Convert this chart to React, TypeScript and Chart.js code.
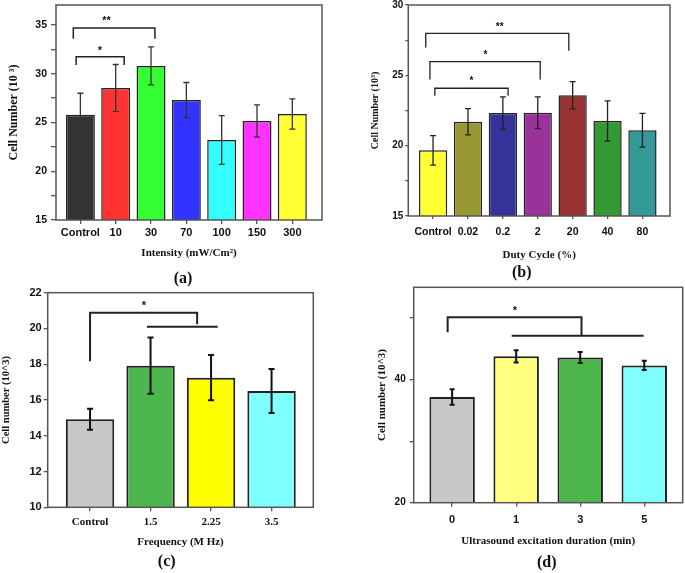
import React, { useEffect, useRef } from "react";
import { Chart, registerables } from "chart.js";

Chart.register(...registerables);

const W = 685;
const H = 573;
const SANS = "'Liberation Sans', Arial, sans-serif";
const SERIF = "'Liberation Serif', 'Times New Roman', serif";

// ---------- Panel (a) ----------
const categoriesA = ["Control", "10", "30", "70", "100", "150", "300"];
const valuesA = [25.8, 28.55, 30.8, 27.3, 23.2, 25.15, 25.88];
const errorsA = [2.2, 2.4, 1.95, 1.8, 2.5, 1.65, 1.55];
const colorsA = ["#333333", "#ff3333", "#33ff33", "#3333ff", "#33ffff", "#ff33ff", "#ffff33"];
const bracketsA = [
  [[-0.2, 33.6], [-0.2, 34.68], [2.11, 34.68], [2.11, 33.6]],
  [[-0.12, 30.9], [-0.12, 31.73], [1.24, 31.73], [1.24, 30.9]],
];
const starsA = [
  { x: 0.74, y: 35.45, text: "**" },
  { x: 0.55, y: 32.35, text: "*" },
];

// ---------- Panel (b) ----------
const categoriesB = ["Control", "0.02", "0.2", "2", "20", "40", "80"];
const valuesB = [19.67, 21.7, 22.32, 22.34, 23.58, 21.75, 21.09];
const errorsB = [1.05, 0.93, 1.15, 1.13, 0.97, 1.43, 1.2];
const colorsB = ["#ffff33", "#999933", "#333399", "#993399", "#993333", "#339933", "#339999"];
const bracketsB = [
  [[-0.21, 26.98], [-0.21, 27.98], [3.89, 27.98], [3.89, 26.75]],
  [[-0.09, 24.7], [-0.09, 25.97], [3.07, 25.97], [3.07, 24.7]],
  [[0.05, 23.55], [0.05, 24.08], [2.15, 24.08], [2.15, 23.55]],
];
const starsB = [
  { x: 1.91, y: 28.4, text: "**" },
  { x: 1.5, y: 26.45, text: "*" },
  { x: 1.1, y: 24.57, text: "*" },
];

// ---------- Panel (c) ----------
const categoriesC = ["Control", "1.5", "2.25", "3.5"];
const valuesC = [14.92, 17.92, 17.25, 16.5];
const errorsC = [0.59, 1.57, 1.27, 1.23];
const colorsC = ["#c8c8c8", "#4cb54c", "#ffff00", "#80ffff"];
const bracketsC = [
  [[0, 18.17], [0, 20.88], [1.77, 20.88], [1.77, 20.24]],
  [[0.94, 20.1], [2.11, 20.1]],
];
const starsC = [{ x: 0.89, y: 21.25, text: "*" }];

// ---------- Panel (d) ----------
const categoriesD = ["0", "1", "3", "5"];
const valuesD = [37.18, 43.78, 43.6, 42.3];
const errorsD = [1.25, 0.98, 0.9, 0.75];
const colorsD = ["#c8c8c8", "#ffff80", "#4cb54c", "#80ffff"];
const bracketsD = [
  [[-0.07, 47.7], [-0.07, 50.15], [2.02, 50.15], [2.02, 47.2]],
  [[0.93, 47.13], [2.99, 47.13]],
];
const starsD = [{ x: 0.98, y: 51.2, text: "*" }];

type Panel = {
  cats: string[];
  vals: number[];
  errs: number[];
  colors: string[];
  brackets: number[][][];
  stars: { x: number; y: number; text: string }[];
  yMin: number;
  yMax: number;
  yStep: number;
  yLabelEvery: number;
  xMin: number;
  xMax: number;
  barPct: number;
  area: { l: number; t: number; r: number; b: number };
  xTitle: string;
  yTitle: string;
  xTitleSize: number;
  yTitleSize: number;
  xTitleY: number;
  yTitleX: number;
  xTickFont: { family: string; size: number };
  yTickSize: number;
  xTickLen: number;
  yTickLen: number;
  xTickPad: number;
  yTickPad: number;
  barBorder: number;
  errColor: string;
  errWidth: number;
  capW: number;
  brWidth: number;
  starSize: number;
  label: string;
  labelX: number;
  labelY: number;
};

const panels: Panel[] = [
  {
    cats: categoriesA, vals: valuesA, errs: errorsA, colors: colorsA, brackets: bracketsA, stars: starsA,
    yMin: 15, yMax: 37.05, yStep: 2.5, yLabelEvery: 5,
    xMin: -0.69, xMax: 6.84, barPct: 0.82,
    area: { l: 56, t: 5, r: 322, b: 220 },
    xTitle: "Intensity (mW/Cm\u00b2)", yTitle: "Cell Number (10 \u00b3)",
    xTitleSize: 11, yTitleSize: 12, xTitleY: 253, yTitleX: 14,
    xTickFont: { family: SANS, size: 11 }, yTickSize: 10.5,
    xTickLen: 4, yTickLen: 5, xTickPad: 2.4, yTickPad: 4,
    barBorder: 1.5, errColor: "#333", errWidth: 1.3, capW: 6, brWidth: 1.5, starSize: 11,
    label: "(a)", labelX: 183, labelY: 279,
  },
  {
    cats: categoriesB, vals: valuesB, errs: errorsB, colors: colorsB, brackets: bracketsB, stars: starsB,
    yMin: 15, yMax: 30, yStep: 2.5, yLabelEvery: 5,
    xMin: -0.71, xMax: 6.79, barPct: 0.81,
    area: { l: 408.3, t: 5, r: 670, b: 216 },
    xTitle: "Duty Cycle (%)", yTitle: "Cell Number (10\u00b3)",
    xTitleSize: 11, yTitleSize: 10, xTitleY: 255, yTitleX: 375,
    xTickFont: { family: SANS, size: 10.5 }, yTickSize: 10,
    xTickLen: 3, yTickLen: 3, xTickPad: 6.4, yTickPad: 2,
    barBorder: 1.5, errColor: "#222", errWidth: 1.3, capW: 6, brWidth: 1.3, starSize: 10,
    label: "(b)", labelX: 521.7, labelY: 273,
  },
  {
    cats: categoriesC, vals: valuesC, errs: errorsC, colors: colorsC, brackets: bracketsC, stars: starsC,
    yMin: 10, yMax: 22, yStep: 2, yLabelEvery: 2,
    xMin: -0.7, xMax: 3.69, barPct: 0.8,
    area: { l: 47.7, t: 292.7, r: 313.3, b: 507.3 },
    xTitle: "Frequency (M Hz)", yTitle: "Cell number (10^3)",
    xTitleSize: 11, yTitleSize: 10.5, xTitleY: 541.7, yTitleX: 6.3,
    xTickFont: { family: SERIF, size: 11 }, yTickSize: 11,
    xTickLen: 4, yTickLen: 4, xTickPad: 3.8, yTickPad: 2,
    barBorder: 2, errColor: "#111", errWidth: 2, capW: 6, brWidth: 2, starSize: 11,
    label: "(c)", labelX: 166.7, labelY: 561.7,
  },
  {
    cats: categoriesD, vals: valuesD, errs: errorsD, colors: colorsD, brackets: bracketsD, stars: starsD,
    yMin: 20, yMax: 55, yStep: 10, yLabelEvery: 20,
    xMin: -0.6, xMax: 3.6, barPct: 0.71,
    area: { l: 413.7, t: 287.3, r: 682.7, b: 502.7 },
    xTitle: "Ultrasound excitation duration (min)", yTitle: "Cell number (10^3)",
    xTitleSize: 11, yTitleSize: 11, xTitleY: 541, yTitleX: 381.7,
    xTickFont: { family: SANS, size: 11 }, yTickSize: 10,
    xTickLen: 4, yTickLen: 4, xTickPad: 6.7, yTickPad: 4,
    barBorder: 2, errColor: "#111", errWidth: 2, capW: 5, brWidth: 2, starSize: 11,
    label: "(d)", labelX: 546.7, labelY: 563,
  },
];

const FRAME = "#555";

function makeConfig(p: Panel): any {
  const Wy = Math.min(50, p.area.l);
  const Hx = 50;
  const lhX = p.xTitleSize * 1.2;
  const lhY = p.yTitleSize * 1.2;

  const decoPlugin = {
    id: "deco" + p.label,
    afterDatasetsDraw(chart: any) {
      const ctx = chart.ctx;
      const xs = chart.scales.x;
      const ys = chart.scales.y;
      const ca = chart.chartArea;
      ctx.save();
      // frame
      ctx.strokeStyle = FRAME;
      ctx.lineWidth = 1.5;
      ctx.strokeRect(ca.left, ca.top, ca.right - ca.left, ca.bottom - ca.top);
      // error bars
      ctx.strokeStyle = p.errColor;
      ctx.lineWidth = p.errWidth;
      p.vals.forEach((v, i) => {
        const x = xs.getPixelForValue(i);
        const yTop = ys.getPixelForValue(v + p.errs[i]);
        const yBot = ys.getPixelForValue(v - p.errs[i]);
        ctx.beginPath();
        ctx.moveTo(x, yTop);
        ctx.lineTo(x, yBot);
        ctx.moveTo(x - p.capW / 2, yTop);
        ctx.lineTo(x + p.capW / 2, yTop);
        ctx.moveTo(x - p.capW / 2, yBot);
        ctx.lineTo(x + p.capW / 2, yBot);
        ctx.stroke();
      });
      // brackets
      ctx.strokeStyle = "#222";
      ctx.lineWidth = p.brWidth;
      p.brackets.forEach((pts) => {
        ctx.beginPath();
        pts.forEach((pt, k) => {
          const px = xs.getPixelForValue(pt[0]);
          const py = ys.getPixelForValue(pt[1]);
          if (k === 0) ctx.moveTo(px, py);
          else ctx.lineTo(px, py);
        });
        ctx.stroke();
      });
      // stars
      ctx.fillStyle = "#111";
      ctx.font = `bold ${p.starSize}px ${SANS}`;
      ctx.textAlign = "center";
      ctx.textBaseline = "middle";
      p.stars.forEach((s) => {
        ctx.fillText(s.text, xs.getPixelForValue(s.x), ys.getPixelForValue(s.y));
      });
      ctx.restore();
    },
    afterDraw(chart: any) {
      const ctx = chart.ctx;
      ctx.save();
      ctx.fillStyle = "#111";
      ctx.font = `bold 16px ${SERIF}`;
      ctx.textAlign = "center";
      ctx.textBaseline = "middle";
      ctx.fillText(p.label, p.labelX, p.labelY);
      ctx.restore();
    },
  };

  const zeroPad = (s: any) => {
    s.paddingLeft = 0;
    s.paddingRight = 0;
    s.paddingTop = 0;
    s.paddingBottom = 0;
  };

  return {
    type: "bar",
    data: {
      datasets: [
        {
          data: p.vals.map((v, i) => ({ x: i, y: v })),
          backgroundColor: p.colors,
          borderColor: "#222",
          borderWidth: p.barBorder,
          borderSkipped: false,
          categoryPercentage: 1,
          barPercentage: p.barPct,
        },
      ],
    },
    options: {
      responsive: false,
      animation: false,
      devicePixelRatio: 1,
      layout: {
        padding: {
          left: p.area.l - Wy,
          top: p.area.t,
          right: W - p.area.r,
          bottom: H - p.area.b - Hx,
        },
      },
      plugins: {
        legend: { display: false },
        tooltip: { enabled: false },
        title: { display: false },
      },
      scales: {
        x: {
          type: "linear",
          min: p.xMin,
          max: p.xMax,
          offset: false,
          grid: {
            display: true,
            drawOnChartArea: false,
            drawTicks: true,
            tickLength: p.xTickLen,
            color: FRAME,
            lineWidth: 1.3,
            offset: false,
          },
          border: { display: false },
          afterBuildTicks: (s: any) => {
            s.ticks = p.cats.map((_, i) => ({ value: i }));
          },
          afterFit: (s: any) => {
            s.height = Hx;
            zeroPad(s);
          },
          ticks: {
            autoSkip: false,
            maxRotation: 0,
            padding: p.xTickPad,
            color: "#111",
            font: { family: p.xTickFont.family, size: p.xTickFont.size, weight: "bold" },
            callback: (_v: any, i: number) => p.cats[i],
          },
          title: {
            display: true,
            text: p.xTitle,
            color: "#111",
            font: { family: SERIF, size: p.xTitleSize, weight: "bold" },
            padding: { top: 0, bottom: p.area.b + Hx - lhX / 2 - p.xTitleY },
          },
        },
        y: {
          type: "linear",
          min: p.yMin,
          max: p.yMax,
          grid: {
            display: true,
            drawOnChartArea: false,
            drawTicks: true,
            tickLength: p.yTickLen,
            color: FRAME,
            lineWidth: 1.3,
          },
          border: { display: false },
          afterFit: (s: any) => {
            s.width = Wy;
            zeroPad(s);
          },
          ticks: {
            stepSize: p.yStep,
            includeBounds: false,
            padding: p.yTickPad,
            color: "#111",
            font: { family: SANS, size: p.yTickSize, weight: "bold" },
            callback: (v: any) => (Math.abs(v % p.yLabelEvery) < 1e-9 ? String(v) : ""),
          },
          title: {
            display: true,
            text: p.yTitle,
            color: "#111",
            font: { family: SERIF, size: p.yTitleSize, weight: "bold" },
            padding: { top: p.yTitleX - (p.area.l - Wy) - lhY / 2, bottom: 0 },
          },
        },
      },
    },
    plugins: [decoPlugin],
  };
}

function PanelCanvas({ p }: { p: Panel }) {
  const ref = useRef<HTMLCanvasElement | null>(null);
  useEffect(() => {
    if (!ref.current) return;
    const chart = new Chart(ref.current, makeConfig(p));
    return () => chart.destroy();
  }, [p]);
  return (
    <canvas
      ref={ref}
      width={W}
      height={H}
      style={{ position: "absolute", left: 0, top: 0, width: W, height: H }}
    />
  );
}

export default function App() {
  return (
    <div
      style={{
        position: "absolute",
        left: 0,
        top: 0,
        width: W,
        height: H,
        background: "#ffffff",
        overflow: "hidden",
      }}
    >
      {panels.map((p) => (
        <PanelCanvas key={p.label} p={p} />
      ))}
    </div>
  );
}
